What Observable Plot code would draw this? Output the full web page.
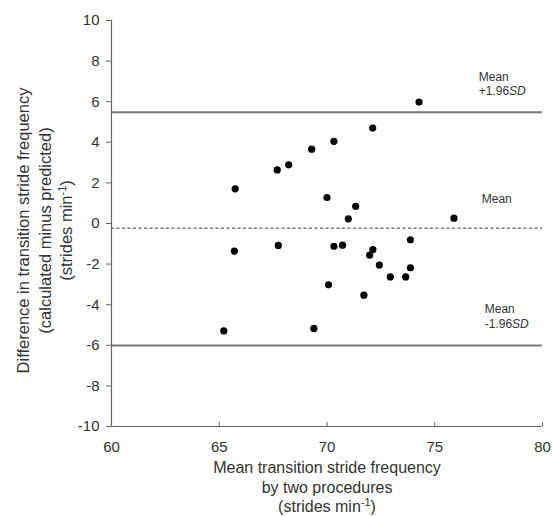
<!DOCTYPE html>
<html><head><meta charset="utf-8">
<script src="https://cdn.jsdelivr.net/npm/d3@7"></script>
<script src="https://cdn.jsdelivr.net/npm/@observablehq/plot@0.6"></script>
<style>body{margin:0;background:#fff;} svg{display:block;}</style>
</head><body><div id="chart"></div><script>
// Bland–Altman data: mean of two procedures (x) vs difference (y)
const meanFreq = [65.74, 67.69, 68.22, 69.29, 70.32, 70.00, 65.70, 67.74, 70.32, 74.27, 72.12, 71.33, 70.99, 75.89, 70.72, 73.87, 72.13, 71.98, 72.43, 73.87, 72.94, 73.65, 70.07, 71.71, 69.39, 65.21];
const diffFreq = [1.71, 2.64, 2.89, 3.66, 4.05, 1.28, -1.36, -1.08, -1.12, 5.98, 4.70, 0.85, 0.23, 0.26, -1.07, -0.80, -1.28, -1.56, -2.05, -2.18, -2.63, -2.63, -3.02, -3.53, -5.17, -5.29];
const meanDiff = -0.23;
const upperLoA = 5.48;
const lowerLoA = -6.01;
const xTicks = [60, 65, 70, 75, 80];
const yTicks = [10, 8, 6, 4, 2, 0, -2, -4, -6, -8, -10];
const annoText = ["Mean\n+1.96SD", "Mean", "Mean\n-1.96SD"];
const annoX = [77.04, 77.18, 77.32];
const annoY = [6.9, 1.25, -4.56];
const xTitle = "Mean transition stride frequency\nby two procedures\n(strides min-1)";
const yTitle = "Difference in transition stride frequency\n(calculated minus predicted)\n(strides min-1)";

const points = meanFreq.map((m, i) => ({m, d: diffFreq[i]}));
const annos = annoText.map((t, i) => ({t, x: annoX[i], y: annoY[i]}));
const fmt = d => String(d);

const chart = Plot.plot({
  width: 553,
  height: 516,
  marginLeft: 111,
  marginRight: 11,
  marginTop: 20,
  marginBottom: 90,
  style: {fontFamily: "'Liberation Sans', Arial, sans-serif", color: "#333", background: "#fff"},
  x: {domain: [60, 80]},
  y: {domain: [-10, 10]},
  marks: [
    Plot.ruleY([upperLoA, lowerLoA], {x1: 60, x2: 80, stroke: "#7a7a7a", strokeWidth: 2}),
    Plot.ruleY([meanDiff], {x1: 60, x2: 80, stroke: "#333", strokeWidth: 1, strokeDasharray: "3,2.5"}),
    Plot.ruleY([-10], {stroke: "#666", strokeWidth: 1.2}),
    Plot.ruleX([60], {stroke: "#666", strokeWidth: 1.2}),
    Plot.axisY({ticks: yTicks, tickFormat: fmt, tickSize: 5, tickPadding: 7, fontSize: 15, label: null, stroke: "#666"}),
    Plot.axisX({ticks: xTicks, tickFormat: fmt, tickSize: -4, tickPadding: 19, fontSize: 15, label: null, stroke: "#666"}),
    Plot.dot(points, {x: "m", y: "d", r: 3.6, fill: "#000", stroke: "none"}),
    Plot.text(annos, {x: "x", y: "y", text: "t", textAnchor: "start", lineAnchor: "middle", fontSize: 12, lineHeight: 1.2, fill: "#333"}),
    Plot.text([xTitle], {frameAnchor: "bottom", textAnchor: "middle", dy: 60, lineAnchor: "middle", fontSize: 16, lineHeight: 1.22, fill: "#333"}),
    Plot.text([yTitle], {frameAnchor: "left", textAnchor: "middle", rotate: -90, dx: -68, dy: 7, lineAnchor: "middle", fontSize: 16.5, lineHeight: 1.33, fill: "#333"})
  ]
});

// Rich text touches: superscript exponent, italic SD
d3.select(chart).selectAll("tspan").each(function() {
  const s = this.textContent;
  if (s === "(strides min-1)") {
    this.innerHTML = "(strides min<tspan dy='-6' font-size='11'>-1</tspan><tspan dy='6'>)</tspan>";
  } else if (s === "+1.96SD" || s === "-1.96SD") {
    this.innerHTML = s.slice(0, 5) + "<tspan font-style='italic'>SD</tspan>";
  }
});

document.getElementById("chart").appendChild(chart);
</script></body></html>
